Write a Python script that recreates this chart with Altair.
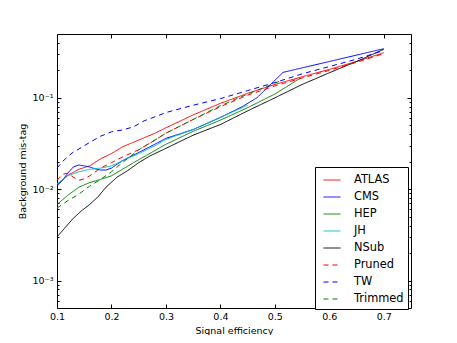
import altair as alt
import pandas as pd

# ---- data ----
NAMES = ["ATLAS", "CMS", "HEP", "JH", "NSub", "Pruned", "TW", "Trimmed"]
COLORS = ["#ff0000", "#0000ff", "#008000", "#00bfbf", "#000000", "#ff0000", "#0000ff", "#008000"]
DASHES = [[1, 0], [1, 0], [1, 0], [1, 0], [1, 0], [5, 4], [5, 4], [5, 4]]

ATLAS_x = [0.10, 0.12, 0.14, 0.16, 0.18, 0.20, 0.22, 0.25, 0.28, 0.30, 0.35, 0.40, 0.45, 0.50, 0.55, 0.60, 0.65, 0.70]
ATLAS_y = [0.0112, 0.0142, 0.0165, 0.0180, 0.0215, 0.0245, 0.029, 0.0345, 0.041, 0.047, 0.065, 0.087, 0.112, 0.140, 0.170, 0.205, 0.250, 0.312]

CMS_x = [0.10, 0.11, 0.12, 0.13, 0.14, 0.15, 0.16, 0.17, 0.18, 0.19, 0.20, 0.22, 0.24, 0.27, 0.30, 0.35, 0.40, 0.44, 0.467, 0.515, 0.70]
CMS_y = [0.0108, 0.0125, 0.0150, 0.0175, 0.0184, 0.0180, 0.0175, 0.0167, 0.0162, 0.0162, 0.0170, 0.0205, 0.0235, 0.029, 0.036, 0.045, 0.061, 0.080, 0.100, 0.19, 0.345]

HEP_x = [0.10, 0.12, 0.14, 0.16, 0.18, 0.20, 0.22, 0.25, 0.28, 0.30, 0.35, 0.40, 0.45, 0.50, 0.546]
HEP_y = [0.0068, 0.0086, 0.0105, 0.0118, 0.0128, 0.0140, 0.0165, 0.021, 0.0265, 0.031, 0.043, 0.057, 0.078, 0.110, 0.163]

JH_x = [0.10, 0.12, 0.14, 0.16, 0.18, 0.20, 0.22, 0.25, 0.28, 0.30, 0.35, 0.40, 0.45]
JH_y = [0.0115, 0.0140, 0.0155, 0.0165, 0.0170, 0.0180, 0.0205, 0.0245, 0.030, 0.035, 0.045, 0.061, 0.083]

NSub_x = [0.10, 0.115, 0.13, 0.145, 0.16, 0.175, 0.19, 0.21, 0.23, 0.25, 0.27, 0.30, 0.35, 0.40, 0.45, 0.50, 0.55, 0.60, 0.65, 0.70]
NSub_y = [0.0030, 0.0038, 0.0048, 0.0058, 0.0068, 0.0082, 0.0105, 0.0135, 0.0160, 0.0195, 0.0230, 0.028, 0.039, 0.051, 0.072, 0.100, 0.140, 0.188, 0.250, 0.34]

Pruned_x = [0.10, 0.11, 0.12, 0.13, 0.14, 0.15, 0.16, 0.18, 0.20, 0.22, 0.25, 0.28, 0.30, 0.35, 0.40, 0.45, 0.50, 0.55, 0.60, 0.65, 0.70]
Pruned_y = [0.0125, 0.0145, 0.0150, 0.0135, 0.0125, 0.0130, 0.0140, 0.0170, 0.0195, 0.0225, 0.027, 0.0345, 0.041, 0.058, 0.080, 0.107, 0.135, 0.165, 0.200, 0.245, 0.305]

TW_x = [0.10, 0.11, 0.12, 0.13, 0.14, 0.16, 0.18, 0.20, 0.22, 0.24, 0.26, 0.28, 0.30, 0.35, 0.40, 0.45, 0.50, 0.55, 0.60, 0.65, 0.70]
TW_y = [0.0170, 0.0200, 0.0228, 0.0255, 0.0275, 0.0325, 0.038, 0.0425, 0.0445, 0.048, 0.056, 0.062, 0.069, 0.083, 0.098, 0.12, 0.147, 0.183, 0.220, 0.265, 0.33]

Trimmed_x = [0.10, 0.12, 0.14, 0.16, 0.18, 0.20, 0.22, 0.25, 0.28, 0.30, 0.35, 0.40, 0.45, 0.51]
Trimmed_y = [0.0062, 0.0075, 0.0088, 0.0108, 0.0128, 0.0155, 0.0195, 0.027, 0.0345, 0.041, 0.058, 0.082, 0.110, 0.153]

XTICKS = [0.1, 0.2, 0.3, 0.4, 0.5, 0.6, 0.7]
YMAJOR = [0.001, 0.01, 0.1]
YMINOR = [0.0006, 0.0007, 0.0008, 0.0009,
          0.002, 0.003, 0.004, 0.005, 0.006, 0.007, 0.008, 0.009,
          0.02, 0.03, 0.04, 0.05, 0.06, 0.07, 0.08, 0.09,
          0.2, 0.3, 0.4]

SERIES = {
    "ATLAS": (ATLAS_x, ATLAS_y), "CMS": (CMS_x, CMS_y), "HEP": (HEP_x, HEP_y),
    "JH": (JH_x, JH_y), "NSub": (NSub_x, NSub_y), "Pruned": (Pruned_x, Pruned_y),
    "TW": (TW_x, TW_y), "Trimmed": (Trimmed_x, Trimmed_y),
}

rows = []
for name, (xs, ys) in SERIES.items():
    for i, (xv, yv) in enumerate(zip(xs, ys)):
        rows.append({"name": name, "eff": xv, "mistag": yv, "order": i})
df = pd.DataFrame(rows)

FONT = "DejaVu Sans"
FS = 9.5

xscale = alt.Scale(domain=[0.1, 0.75], nice=False, zero=False)
yscale = alt.Scale(type="log", domain=[0.0005, 0.5], nice=False)

common_axis = dict(domain=False, grid=False, tickColor="black", tickWidth=1,
                   labelColor="black", labelFont=FONT, labelFontSize=FS,
                   titleFont=FONT, titleFontSize=FS, titleFontWeight="normal",
                   titleColor="black", labelFlush=False)

x_bottom = alt.Axis(orient="bottom", values=XTICKS, format=".1f", offset=-4, tickSize=4,
                    labelPadding=3, title="Signal efficiency", titlePadding=5, **common_axis)
y_left = alt.Axis(orient="left", values=YMAJOR, offset=-4, tickSize=4, labelPadding=4,
                  labelExpr="'10' + (datum.value < 0.005 ? '⁻³' : (datum.value < 0.05 ? '⁻²' : '⁻¹'))",
                  title="Background mis-tag", titlePadding=5, **common_axis)

x_top = alt.Axis(orient="top", values=XTICKS, offset=-4, tickSize=4, labels=False, title=None, **common_axis)
y_right = alt.Axis(orient="right", values=YMAJOR, offset=-4, tickSize=4, labels=False, title=None, **common_axis)
y_left_minor = alt.Axis(orient="left", values=YMINOR, offset=-2, tickSize=2, labels=False, title=None, **common_axis)
y_right_minor = alt.Axis(orient="right", values=YMINOR, offset=-2, tickSize=2, labels=False, title=None, **common_axis)

lines = alt.Chart(df).mark_line(strokeWidth=1).encode(
    x=alt.X("eff:Q", scale=xscale, axis=x_bottom),
    y=alt.Y("mistag:Q", scale=yscale, axis=y_left),
    color=alt.Color("name:N", scale=alt.Scale(domain=NAMES, range=COLORS), title=None),
    strokeDash=alt.StrokeDash("name:N", scale=alt.Scale(domain=NAMES, range=DASHES), title=None),
    order="order:Q",
)

ghost_a = alt.Chart(df).mark_point(opacity=0).encode(
    x=alt.X("eff:Q", scale=xscale, axis=x_top),
    y=alt.Y("mistag:Q", scale=yscale, axis=y_right),
)
ghost_b = alt.Chart(df).mark_point(opacity=0).encode(
    x=alt.X("eff:Q", scale=xscale, axis=None),
    y=alt.Y("mistag:Q", scale=yscale, axis=y_left_minor),
)
ghost_c = alt.Chart(df).mark_point(opacity=0).encode(
    x=alt.X("eff:Q", scale=xscale, axis=None),
    y=alt.Y("mistag:Q", scale=yscale, axis=y_right_minor),
)

chart = alt.layer(lines, ghost_a, ghost_b, ghost_c).resolve_axis(
    x="independent", y="independent"
).properties(
    width=354, height=274,
    autosize=alt.AutoSizeParams(type="none"),
    padding={"left": 49, "top": 26, "right": 38, "bottom": 27},
    background="white",
).configure_view(
    stroke="black", strokeWidth=1
).configure_legend(
    orient="none", legendX=258, legendY=133, direction="vertical",
    symbolType="stroke", symbolSize=289, symbolStrokeWidth=1, symbolOffset=4,
    labelFont=FONT, labelFontSize=11.4, labelColor="black", labelOffset=13,
    padding=4, rowPadding=2, strokeColor="black", fillColor="white",
    cornerRadius=0, titleFontSize=0,
)

chart.save("out.html", embed_options={"renderer": "svg", "actions": False})
